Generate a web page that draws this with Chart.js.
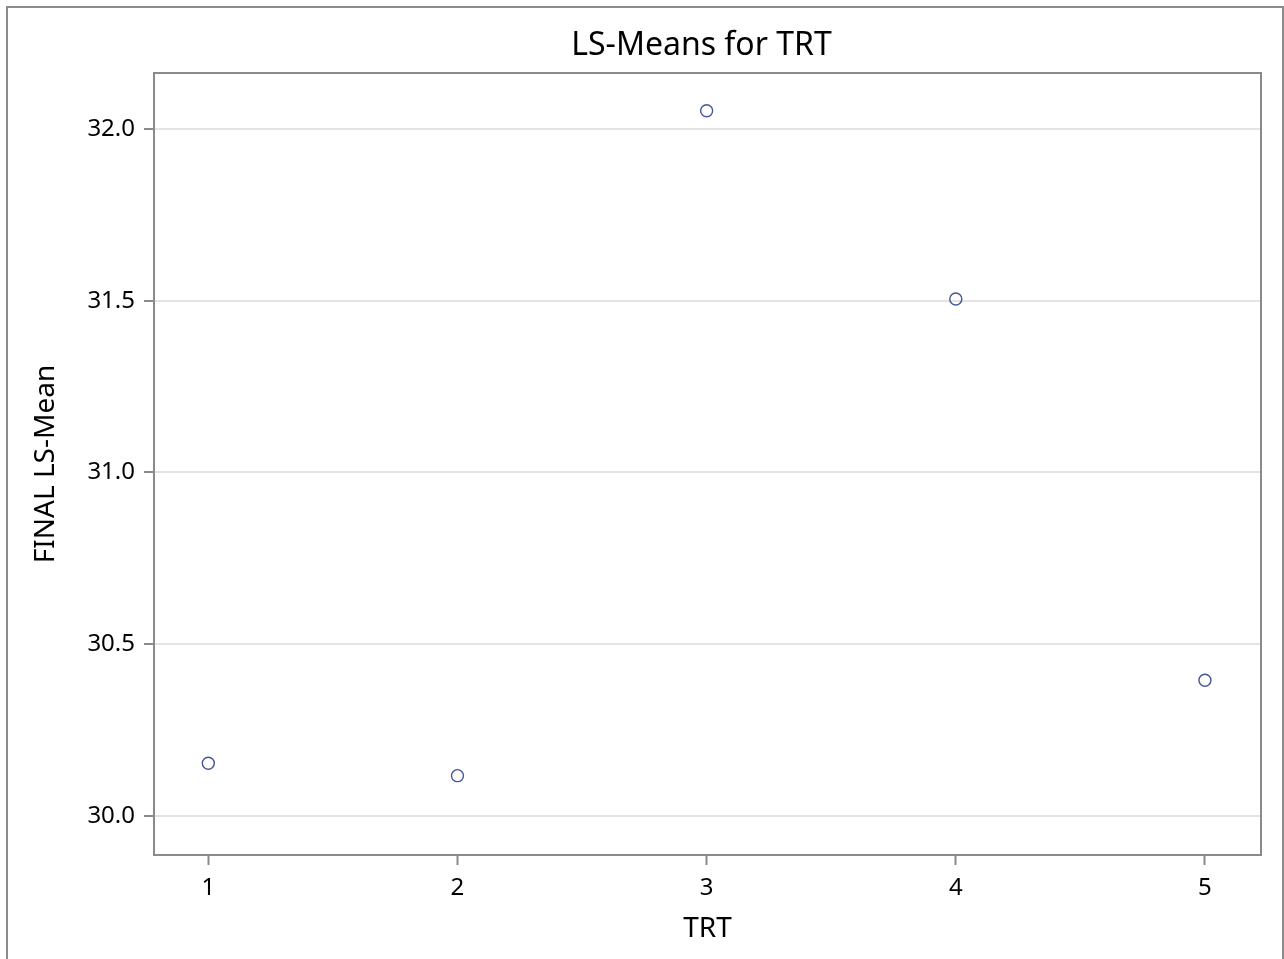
<!DOCTYPE html>
<html>
<head>
<meta charset="utf-8">
<script src="https://cdn.jsdelivr.net/npm/chart.js@4/dist/chart.umd.min.js"></script>
<style>
  html, body { margin: 0; padding: 0; background: #fff; }
  #wrap { position: relative; width: 1284px; height: 959px; overflow: hidden; }
  #frame { position: absolute; left: 6px; top: 6px; width: 1278px; height: 1000px; border: 2px solid #8c8c8c; box-sizing: border-box; }
  canvas { position: absolute; left: 0; top: 0; }
</style>
</head>
<body>
<div id="wrap">
  <div id="frame"></div>
  <canvas id="c" width="1284" height="959"></canvas>
</div>
<script>
// Data
const trtLevels = [1, 2, 3, 4, 5];
const lsMeans = [30.153, 30.117, 32.053, 31.505, 30.395];
const xTickValues = [1, 2, 3, 4, 5];
const yTickValues = [30.0, 30.5, 31.0, 31.5, 32.0];
const chartTitle = 'LS-Means for TRT';
const xTitle = 'TRT';
const yTitle = 'FINAL LS-Mean';

const FONT = '"Noto Sans", "Open Sans", sans-serif';
const GRAY = '#8a8a8a';

const titlesPlugin = {
  id: 'titles',
  afterDraw(chart) {
    const ctx = chart.ctx;
    const a = chart.chartArea;
    ctx.save();
    // plot frame
    ctx.strokeStyle = GRAY;
    ctx.lineWidth = 2;
    ctx.strokeRect(a.left, a.top, a.right - a.left, a.bottom - a.top);
    ctx.fillStyle = '#000';
    // main title
    ctx.font = '32px ' + FONT;
    ctx.textAlign = 'center';
    ctx.textBaseline = 'alphabetic';
    ctx.fillText(chartTitle, (a.left + a.right) / 2 - 6, 55);
    // x title
    ctx.font = '28px ' + FONT;
    ctx.fillText(xTitle, (a.left + a.right) / 2, 937);
    // y title
    ctx.translate(54, (a.top + a.bottom) / 2);
    ctx.rotate(-Math.PI / 2);
    ctx.fillText(yTitle, 0, 0);
    ctx.restore();
  }
};

new Chart(document.getElementById('c'), {
  type: 'scatter',
  data: {
    datasets: [{
      data: trtLevels.map((x, i) => ({ x: x, y: lsMeans[i] })),
      pointStyle: 'circle',
      pointRadius: 6,
      pointHoverRadius: 6,
      pointBorderWidth: 1.4,
      pointBorderColor: '#445694',
      pointBackgroundColor: 'rgba(0,0,0,0)'
    }]
  },
  options: {
    responsive: false,
    animation: false,
    events: [],
    layout: { padding: { top: 73, right: 23, left: 0, bottom: 0 } },
    plugins: { legend: { display: false }, tooltip: { enabled: false }, title: { display: false } },
    scales: {
      x: {
        type: 'linear',
        min: 0.782,
        max: 5.225,
        afterBuildTicks: s => { s.ticks = xTickValues.map(v => ({ value: v })); },
        afterFit: s => { s.height = 104; },
        border: { display: false },
        grid: { drawOnChartArea: false, drawTicks: true, tickLength: 10, tickWidth: 2, tickColor: GRAY, color: GRAY },
        ticks: { color: '#000', font: { family: FONT, size: 24 }, padding: 9, maxRotation: 0, callback: v => String(v) }
      },
      y: {
        type: 'linear',
        min: 29.886,
        max: 32.163,
        afterBuildTicks: s => { s.ticks = yTickValues.map(v => ({ value: v })); },
        afterFit: s => { s.width = 154; },
        border: { display: false },
        grid: { color: '#e3e3e3', lineWidth: 2, drawTicks: true, tickLength: 10, tickWidth: 2, tickColor: GRAY },
        ticks: { color: '#000', font: { family: FONT, size: 24 }, padding: 9, callback: v => Number(v).toFixed(1) }
      }
    }
  },
  plugins: [titlesPlugin]
});
</script>
</body>
</html>
